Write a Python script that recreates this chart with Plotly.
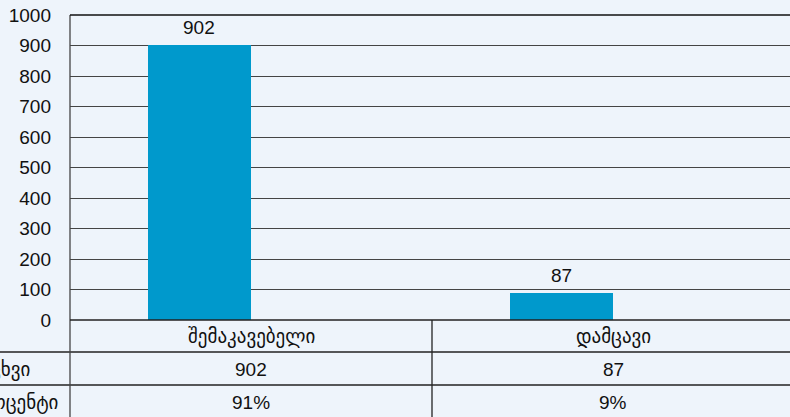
import plotly.graph_objects as go

categories = ["შემაკავებელი", "დამცავი"]
counts = [902, 87]
percents = ["91%", "9%"]
row_labels = ["რიცხვი", "პროცენტი"]
y_ticks = list(range(0, 1001, 100))

BG = "#EEF4FB"
BAR = "#0099CC"
W, H = 790, 417
ML, MT, MB = 70, 15, 97
PH = H - MT - MB  # plot height in px
XMAX = 720 / 362  # category width ~362px; plot runs past the right edge

def py(pix):
    return (H - MB - pix) / PH

def px(pix):
    return (pix - ML) / (W - ML)

xpos = [i + 0.5 for i in range(len(categories))]

fig = go.Figure()
fig.add_trace(go.Bar(
    x=xpos, y=counts, width=0.285, offset=-0.285,
    marker=dict(color=BAR, line=dict(width=0)),
    hoverinfo="skip",
))

shapes = []
line_dark = dict(color="#222", width=1.3)
for yy in [352, 385]:
    shapes.append(dict(type="line", xref="paper", yref="paper",
                       x0=px(0), x1=1, y0=py(yy), y1=py(yy), line=line_dark))
shapes.append(dict(type="line", xref="x", yref="paper",
                   x0=1, x1=1, y0=0, y1=py(H), line=line_dark))
shapes.append(dict(type="line", xref="paper", yref="paper",
                   x0=0, x1=0, y0=py(MT), y1=py(H), line=dict(color="#444", width=1.3)))
shapes.append(dict(type="line", xref="paper", yref="paper",
                   x0=0, x1=1, y0=0, y1=0, line=line_dark))
shapes.append(dict(type="line", xref="paper", yref="paper",
                   x0=0, x1=1, y0=1, y1=1, line=dict(color="#111", width=1.3)))

GEO = "DejaVu Sans, sans-serif"
geo_font = dict(family=GEO, size=19, color="#111")
font = dict(family="Liberation Sans, Arial", size=19, color="#111")
annotations = []
for i, c in enumerate(categories):
    annotations.append(dict(x=xpos[i] - 0.1425, y=counts[i], xref="x", yref="y",
                            text=str(counts[i]), showarrow=False, font=font,
                            xanchor="center", yanchor="bottom", yshift=5))
    annotations.append(dict(x=xpos[i], y=py(336), xref="x", yref="paper",
                            text=c, showarrow=False, font=geo_font,
                            xanchor="center", yanchor="middle"))
    annotations.append(dict(x=xpos[i], y=py(369), xref="x", yref="paper",
                            text=str(counts[i]), showarrow=False, font=font,
                            xanchor="center", yanchor="middle"))
    annotations.append(dict(x=xpos[i], y=py(402), xref="x", yref="paper",
                            text=percents[i], showarrow=False, font=font,
                            xanchor="center", yanchor="middle"))
annotations.append(dict(x=px(32), y=py(369), xref="paper", yref="paper",
                        text=row_labels[0], showarrow=False, font=geo_font,
                        xanchor="right", yanchor="middle"))
annotations.append(dict(x=px(60), y=py(402), xref="paper", yref="paper",
                        text=row_labels[1], showarrow=False, font=geo_font,
                        xanchor="right", yanchor="middle"))

fig.update_layout(
    width=W, height=H,
    margin=dict(l=ML, r=0, t=MT, b=MB, autoexpand=False),
    paper_bgcolor=BG, plot_bgcolor=BG,
    showlegend=False,
    bargap=0,
    xaxis=dict(range=[0, XMAX], showticklabels=False, showgrid=False,
               zeroline=False, showline=False, fixedrange=True),
    yaxis=dict(range=[0, 1000], tickvals=y_ticks, ticktext=[str(v) for v in y_ticks],
               showgrid=True, gridcolor="#444", gridwidth=1,
               zeroline=False, showline=False, ticks="",
               tickfont=dict(family="Liberation Sans, Arial", size=19, color="#111"),
               ticklabelstandoff=18, fixedrange=True),
    shapes=shapes,
    annotations=annotations,
)

fig.write_html(
    "out.html",
    config={"displayModeBar": False},
    post_script="document.body.style.margin='0';document.body.style.overflow='hidden';document.body.style.background='" + BG + "';",
)
